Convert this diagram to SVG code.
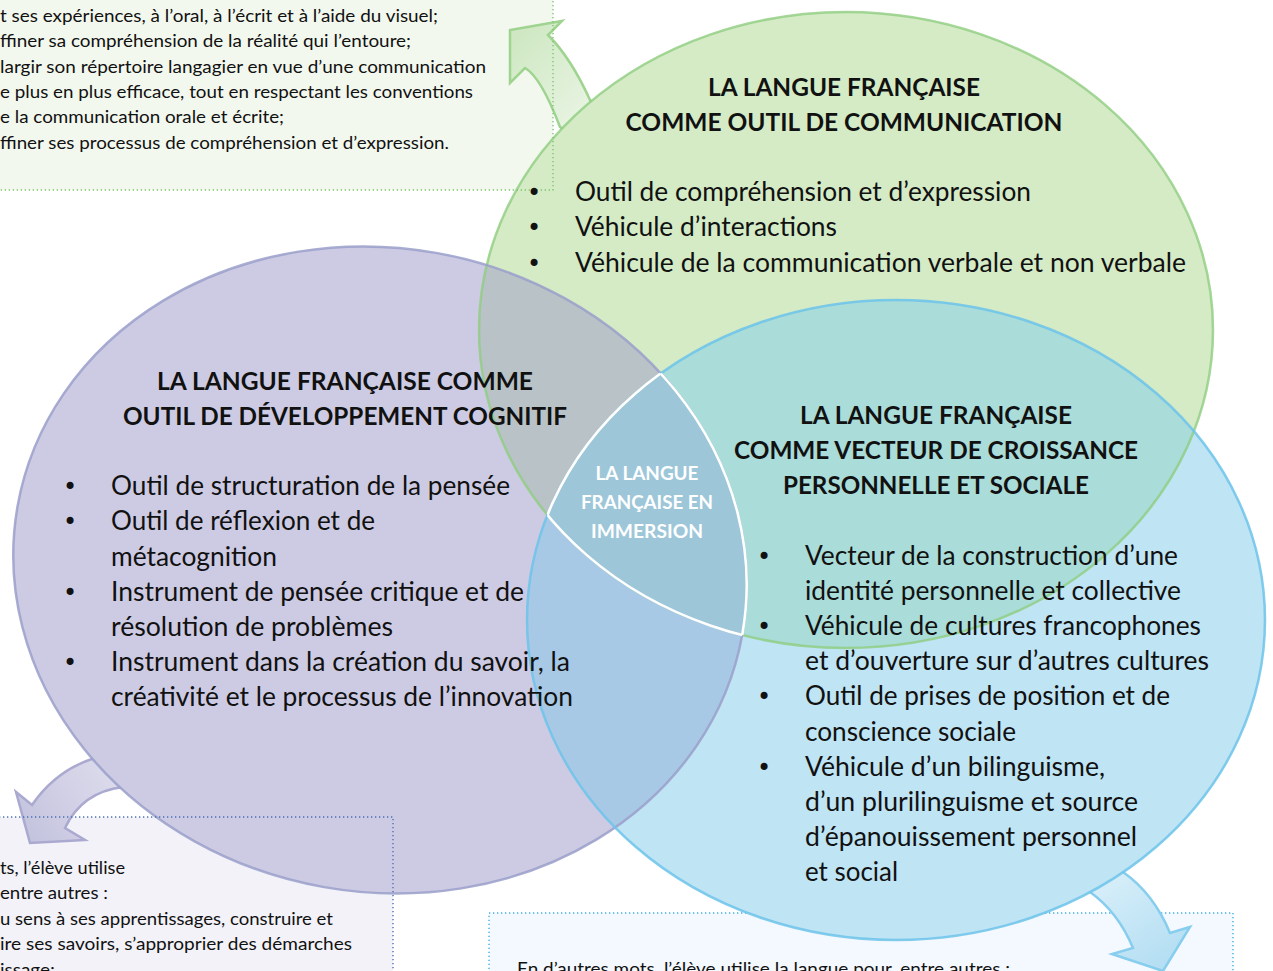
<svg xmlns="http://www.w3.org/2000/svg" width="1273" height="971" viewBox="0 0 1273 971">
<style>
.t{font-family:Lato,"Open Sans","Liberation Sans",sans-serif;fill:#111;}
.b{font-size:26px;}
.h{font-size:24px;font-weight:bold;text-anchor:middle;}
.s{font-size:17.5px;}
.c{font-family:Lato,"Open Sans","Liberation Sans",sans-serif;font-size:19px;font-weight:bold;fill:#fff;text-anchor:middle;}
.bul{font-family:"DejaVu Sans",sans-serif;font-size:24px;fill:#111;text-anchor:middle;}
.dot{fill:none;stroke-width:1.4;stroke-dasharray:1.3 2.7;}
</style>
<defs>
<ellipse id="eG" cx="846" cy="330" rx="367" ry="318"/>
<ellipse id="eP" cx="380" cy="570" rx="368" ry="322" transform="rotate(10 380 570)"/>
<ellipse id="eB" cx="896" cy="620" rx="369" ry="320"/>
<clipPath id="cG"><use href="#eG"/></clipPath>
<clipPath id="cP"><use href="#eP"/></clipPath>
<clipPath id="cB"><use href="#eB"/></clipPath>
<linearGradient id="gG" x1="590" y1="110" x2="515" y2="40" gradientUnits="userSpaceOnUse"><stop offset="0" stop-color="#e8f4e2"/><stop offset="1" stop-color="#cfe8c3"/></linearGradient>
<linearGradient id="gP" x1="120" y1="775" x2="30" y2="835" gradientUnits="userSpaceOnUse"><stop offset="0" stop-color="#dddcec"/><stop offset="1" stop-color="#c5c4df"/></linearGradient>
<linearGradient id="gB" x1="1105" y1="880" x2="1160" y2="960" gradientUnits="userSpaceOnUse"><stop offset="0" stop-color="#d6eef9"/><stop offset="1" stop-color="#b6dff3"/></linearGradient>
</defs>
<rect width="1273" height="971" fill="#fff"/>
<g id="box-fills">
<rect x="-5" y="-5" width="558" height="195" fill="#f3f8ef"/>
<rect x="-5" y="817" width="398" height="200" fill="#f2f2f8"/>
<rect x="489" y="913" width="744" height="100" fill="#f3f9fe"/>
</g>
<g id="box-bottom-right-border"><rect class="dot" x="489" y="913" width="744" height="100" stroke="#3eaee3"/></g>
<g id="connectors">
<path d="M600 112 L590 100 Q571 58 548 35 L562 21 L510 30 L510 83 L525 68 Q541 77 560 127 L572 136 Z" fill="url(#gG)" stroke="#9fd490" stroke-width="2.5" stroke-linejoin="miter"/>
<path d="M108 752 L95 758 Q56 770 32 805 L16 792 L30 843 L85 840 L65 828 Q82 792 123 787 L135 782 Z" fill="url(#gP)" stroke="#aaa9cf" stroke-width="2.5"/>
<path d="M1115 862 L1123 872 Q1154 894 1170 933 L1190 927 L1163 971 L1112 954 L1133 948 Q1118 912 1090 892 L1080 885 Z" fill="url(#gB)" stroke="#86cdee" stroke-width="2.5"/>
</g>
<g id="node-communication"><use href="#eG" fill="#d4ebc6"/></g>
<g id="node-cognitif"><use href="#eP" fill="#cdcbe3"/></g>
<g id="node-croissance"><use href="#eB" fill="#bfe4f4"/></g>
<g id="overlaps">
<g clip-path="url(#cP)"><use href="#eG" fill="#b9c3c7"/></g>
<g clip-path="url(#cG)"><use href="#eB" fill="#aadcd9"/></g>
<g clip-path="url(#cP)"><use href="#eB" fill="#a8c9e6"/></g>
</g>
<g id="outlines" fill="none" stroke-width="2.5">
<use href="#eG" stroke="#8fcd80" opacity="0.8"/>
<use href="#eP" stroke="#9ba0cb" opacity="0.85"/>
<use href="#eB" stroke="#6cc3ea" opacity="0.85"/>
</g>
<g id="node-immersion">
<g clip-path="url(#cP)"><g clip-path="url(#cG)"><use href="#eB" fill="#9dc6d9"/></g></g>
<g fill="none" stroke="#fff" stroke-width="2.6">
<g clip-path="url(#cP)"><g clip-path="url(#cG)"><use href="#eB"/></g></g>
<g clip-path="url(#cP)"><g clip-path="url(#cB)"><use href="#eG"/></g></g>
<g clip-path="url(#cG)"><g clip-path="url(#cB)"><use href="#eP"/></g></g>
</g>
<text class="c" x="647" y="480" textLength="103" lengthAdjust="spacingAndGlyphs">LA LANGUE</text>
<text class="c" x="647" y="509" textLength="132" lengthAdjust="spacingAndGlyphs">FRANÇAISE EN</text>
<text class="c" x="647" y="538" textLength="112" lengthAdjust="spacingAndGlyphs">IMMERSION</text>
</g>
<g id="box-borders">
<rect class="dot" x="-5" y="-5" width="558" height="195" stroke="#7cc46d"/>
<rect class="dot" x="-5" y="817" width="398" height="200" stroke="#4a70b5"/>
</g>
<g id="text-communication" class="t">
<text class="t h" x="844" y="96" textLength="272" lengthAdjust="spacingAndGlyphs">LA LANGUE FRANÇAISE</text>
<text class="t h" x="844" y="131" textLength="437" lengthAdjust="spacingAndGlyphs">COMME OUTIL DE COMMUNICATION</text>
<text class="bul" x="534" y="201">•</text>
<text class="bul" x="534" y="236">•</text>
<text class="bul" x="534" y="272">•</text>
<text class="t b" x="575" y="201" textLength="456" lengthAdjust="spacingAndGlyphs">Outil de compréhension et d’expression</text>
<text class="t b" x="575" y="236" textLength="262" lengthAdjust="spacingAndGlyphs">Véhicule d’interactions</text>
<text class="t b" x="575" y="272" textLength="611" lengthAdjust="spacingAndGlyphs">Véhicule de la communication verbale et non verbale</text>
</g>
<g id="text-cognitif" class="t">
<text class="t h" x="345" y="390" textLength="376" lengthAdjust="spacingAndGlyphs">LA LANGUE FRANÇAISE COMME</text>
<text class="t h" x="345" y="425" textLength="444" lengthAdjust="spacingAndGlyphs">OUTIL DE DÉVELOPPEMENT COGNITIF</text>
<text class="bul" x="70" y="495">•</text>
<text class="bul" x="70" y="530">•</text>
<text class="bul" x="70" y="601">•</text>
<text class="bul" x="70" y="671">•</text>
<text class="t b" x="111" y="495" textLength="399" lengthAdjust="spacingAndGlyphs">Outil de structuration de la pensée</text>
<text class="t b" x="111" y="530" textLength="264" lengthAdjust="spacingAndGlyphs">Outil de réflexion et de</text>
<text class="t b" x="111" y="566" textLength="166" lengthAdjust="spacingAndGlyphs">métacognition</text>
<text class="t b" x="111" y="601" textLength="413" lengthAdjust="spacingAndGlyphs">Instrument de pensée critique et de</text>
<text class="t b" x="111" y="636" textLength="282" lengthAdjust="spacingAndGlyphs">résolution de problèmes</text>
<text class="t b" x="111" y="671" textLength="459" lengthAdjust="spacingAndGlyphs">Instrument dans la création du savoir, la</text>
<text class="t b" x="111" y="706" textLength="462" lengthAdjust="spacingAndGlyphs">créativité et le processus de l’innovation</text>
</g>
<g id="text-croissance" class="t">
<text class="t h" x="936" y="424" textLength="272" lengthAdjust="spacingAndGlyphs">LA LANGUE FRANÇAISE</text>
<text class="t h" x="936" y="459" textLength="404" lengthAdjust="spacingAndGlyphs">COMME VECTEUR DE CROISSANCE</text>
<text class="t h" x="936" y="494" textLength="306" lengthAdjust="spacingAndGlyphs">PERSONNELLE ET SOCIALE</text>
<text class="bul" x="764" y="565">•</text>
<text class="bul" x="764" y="635">•</text>
<text class="bul" x="764" y="705">•</text>
<text class="bul" x="764" y="776">•</text>
<text class="t b" x="805" y="565" textLength="373" lengthAdjust="spacingAndGlyphs">Vecteur de la construction d’une</text>
<text class="t b" x="805" y="600" textLength="376" lengthAdjust="spacingAndGlyphs">identité personnelle et collective</text>
<text class="t b" x="805" y="635" textLength="396" lengthAdjust="spacingAndGlyphs">Véhicule de cultures francophones</text>
<text class="t b" x="805" y="670" textLength="404" lengthAdjust="spacingAndGlyphs">et d’ouverture sur d’autres cultures</text>
<text class="t b" x="805" y="705" textLength="365" lengthAdjust="spacingAndGlyphs">Outil de prises de position et de</text>
<text class="t b" x="805" y="741" textLength="211" lengthAdjust="spacingAndGlyphs">conscience sociale</text>
<text class="t b" x="805" y="776" textLength="300" lengthAdjust="spacingAndGlyphs">Véhicule d’un bilinguisme,</text>
<text class="t b" x="805" y="811" textLength="333" lengthAdjust="spacingAndGlyphs">d’un plurilinguisme et source</text>
<text class="t b" x="805" y="846" textLength="332" lengthAdjust="spacingAndGlyphs">d’épanouissement personnel</text>
<text class="t b" x="805" y="881" textLength="93" lengthAdjust="spacingAndGlyphs">et social</text>
</g>
<g id="text-box-top-left" class="t">
<text class="t s" x="0" y="22" textLength="438" lengthAdjust="spacingAndGlyphs">t ses expériences, à l’oral, à l’écrit et à l’aide du visuel;</text>
<text class="t s" x="0" y="47" textLength="411" lengthAdjust="spacingAndGlyphs">ffiner sa compréhension de la réalité qui l’entoure;</text>
<text class="t s" x="0" y="73" textLength="486" lengthAdjust="spacingAndGlyphs">largir son répertoire langagier en vue d’une communication</text>
<text class="t s" x="0" y="98" textLength="473" lengthAdjust="spacingAndGlyphs">e plus en plus efficace, tout en respectant les conventions</text>
<text class="t s" x="0" y="123" textLength="284" lengthAdjust="spacingAndGlyphs">e la communication orale et écrite;</text>
<text class="t s" x="0" y="149" textLength="449" lengthAdjust="spacingAndGlyphs">ffiner ses processus de compréhension et d’expression.</text>
</g>
<g id="text-box-bottom-left" class="t">
<text class="t s" x="0" y="874" textLength="125" lengthAdjust="spacingAndGlyphs">ts, l’élève utilise</text>
<text class="t s" x="0" y="899" textLength="108" lengthAdjust="spacingAndGlyphs">entre autres :</text>
<text class="t s" x="0" y="925" textLength="333" lengthAdjust="spacingAndGlyphs">u sens à ses apprentissages, construire et</text>
<text class="t s" x="0" y="950" textLength="352" lengthAdjust="spacingAndGlyphs">ire ses savoirs, s’approprier des démarches</text>
<text class="t s" x="0" y="976" textLength="55" lengthAdjust="spacingAndGlyphs">issage;</text>
</g>
<g id="text-box-bottom-right" class="t">
<text class="t s" x="517" y="975" textLength="493" lengthAdjust="spacingAndGlyphs">En d’autres mots, l’élève utilise la langue pour, entre autres :</text>
</g>
</svg>
